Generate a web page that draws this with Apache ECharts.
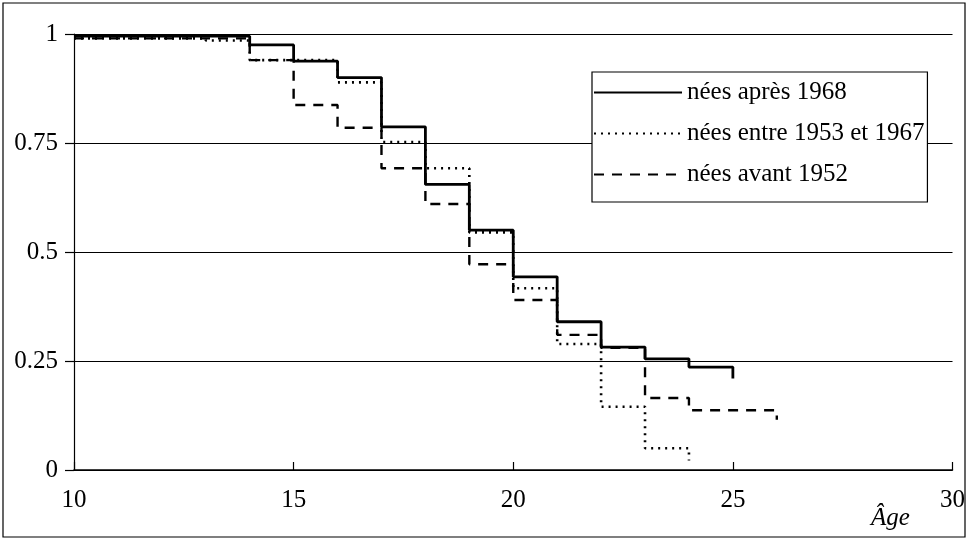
<!DOCTYPE html>
<html>
<head>
<meta charset="utf-8">
<script src="https://cdn.jsdelivr.net/npm/echarts@6/dist/echarts.min.js"></script>
<style>
html,body{margin:0;padding:0;background:#fff;}
#chart{width:968px;height:540px;}
</style>
</head>
<body>
<div id="chart"></div>
<script>
// Ages at which each step starts (last entry = end of curve)
const agesApres1968 = [10, 11, 12, 13, 14, 15, 16, 17, 18, 19, 20, 21, 22, 23, 24, 25, 25];
const valsApres1968 = [0.995, 0.995, 0.995, 0.995, 0.975, 0.938, 0.900, 0.787, 0.655, 0.550, 0.443, 0.340, 0.282, 0.255, 0.236, 0.236, 0.210];

const agesEntre = [10, 11, 12, 13, 14, 15, 16, 17, 18, 19, 20, 21, 22, 23, 24, 24];
const valsEntre = [0.990, 0.990, 0.990, 0.985, 0.940, 0.940, 0.889, 0.752, 0.692, 0.545, 0.417, 0.289, 0.145, 0.050, 0.050, 0.022];

const agesAvant1952 = [10, 11, 12, 13, 14, 15, 16, 17, 18, 19, 20, 21, 22, 23, 24, 25, 26, 26];
const valsAvant1952 = [0.990, 0.990, 0.990, 0.990, 0.940, 0.837, 0.785, 0.692, 0.610, 0.472, 0.390, 0.310, 0.280, 0.165, 0.137, 0.137, 0.137, 0.115];

const seriesNames = ['nées après 1968', 'nées entre 1953 et 1967', 'nées avant 1952'];
const yTickLabels = {0: '0', 0.25: '0.25', 0.5: '0.5', 0.75: '0.75', 1: '1'};
const xTickLabels = {10: '10', 15: '15', 20: '20', 25: '25', 30: '30'};
const xAxisTitle = 'Âge';

function pairs(a, v) { return a.map((x, i) => [x, v[i]]); }

const FONT = "'Liberation Serif', 'Times New Roman', serif";
const chart = echarts.init(document.getElementById('chart'), null, {renderer: 'canvas'});
chart.setOption({
  animation: false,
  backgroundColor: '#fff',
  grid: {left: 74, right: 15, top: 34, bottom: 70},
  xAxis: {
    type: 'value', min: 10, max: 30, interval: 5,
    axisLine: {lineStyle: {color: '#000', width: 1.5}},
    axisTick: {inside: true, length: 8, lineStyle: {color: '#000', width: 1.2}},
    axisLabel: {margin: 18, color: '#000', fontFamily: FONT, fontSize: 25,
      formatter: v => xTickLabels[v] !== undefined ? xTickLabels[v] : ''},
    splitLine: {show: false}
  },
  yAxis: {
    type: 'value', min: 0, max: 1, interval: 0.25,
    axisLine: {show: true, lineStyle: {color: '#000', width: 1.2}},
    axisTick: {show: true, length: 9, lineStyle: {color: '#000', width: 1.2}},
    axisLabel: {margin: 16, color: '#000', fontFamily: FONT, fontSize: 25,
      formatter: v => yTickLabels[v] !== undefined ? yTickLabels[v] : ''},
    splitLine: {show: true, lineStyle: {color: '#000', width: 1.2}}
  },
  legend: {
    orient: 'vertical', left: 592, top: 72,
    itemWidth: 88, itemHeight: 14, itemGap: 16,
    padding: [8, 3, 15, 1],
    borderColor: '#000', borderWidth: 1.2, backgroundColor: '#fff',
    itemStyle: {opacity: 0},
    textStyle: {fontFamily: FONT, fontSize: 25, color: '#000'},
    data: seriesNames
  },
  series: [
    {name: seriesNames[0], type: 'line', step: 'end', symbol: 'none',
     lineStyle: {color: '#000', width: 2.8, type: 'solid'}, itemStyle: {color: '#000'},
     data: pairs(agesApres1968, valsApres1968), z: 5},
    {name: seriesNames[1], type: 'line', step: 'end', symbol: 'none',
     lineStyle: {color: '#000', width: 2.6, type: [2, 5]}, itemStyle: {color: '#000'},
     data: pairs(agesEntre, valsEntre), z: 4},
    {name: seriesNames[2], type: 'line', step: 'end', symbol: 'none',
     lineStyle: {color: '#000', width: 2.4, type: [10, 8]}, itemStyle: {color: '#000'},
     data: pairs(agesAvant1952, valsAvant1952), z: 3}
  ],
  graphic: [
    {type: 'rect', shape: {x: 3, y: 3, width: 962, height: 534}, z: -1,
     style: {fill: 'none', stroke: '#000', lineWidth: 1.2}},
    {type: 'text', left: 871, top: 506,
     style: {text: xAxisTitle, fontFamily: FONT, fontSize: 25, fontStyle: 'italic', fill: '#000'}}
  ]
});
</script>
</body>
</html>
